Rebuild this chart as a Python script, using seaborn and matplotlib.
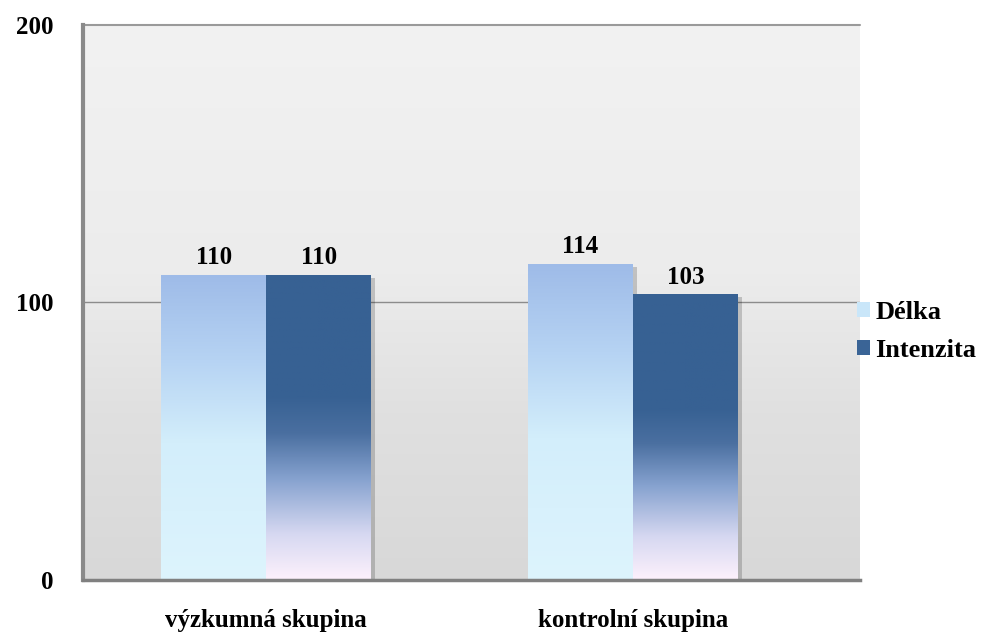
import matplotlib
matplotlib.use("Agg")
import matplotlib.pyplot as plt
import numpy as np
import pandas as pd
import seaborn as sns
from matplotlib.colors import LinearSegmentedColormap
from matplotlib.patches import Rectangle, Patch

# DATA
categories = ["výzkumná skupina", "kontrolní skupina"]
series = ["Délka", "Intenzita"]
delka = [110, 114]
intenzita = [110, 103]
yticks = [0, 100, 200]

df = pd.DataFrame({
    "skupina": categories * 2,
    "serie": [series[0]] * 2 + [series[1]] * 2,
    "hodnota": delka + intenzita,
})

# GRADIENTS (bottom -> top)
cmaps = {
    "Délka": LinearSegmentedColormap.from_list("d", [
        (0.0, "#ddf4fd"), (0.45, "#d3eefb"), (0.72, "#b6d3f3"), (1.0, "#9ebbe8")]),
    "Intenzita": LinearSegmentedColormap.from_list("i", [
        (0.0, "#fdf1fc"), (0.15, "#d6d8f1"), (0.33, "#86a2cf"), (0.48, "#4a6fa0"),
        (0.6, "#376193"), (1.0, "#376193")]),
}
bgcmap = LinearSegmentedColormap.from_list("bg", [
    (0.0, "#d8d8d8"), (0.3, "#e0e0e0"), (0.55, "#ececec"), (1.0, "#f2f2f2")])

sns.set_style("white")
plt.rcParams["font.family"] = ["Liberation Serif", "DejaVu Serif"]
plt.rcParams["font.weight"] = "bold"
plt.rcParams["text.color"] = "black"
plt.rcParams["xtick.color"] = "black"
plt.rcParams["ytick.color"] = "black"

fig = plt.figure(figsize=(9.92, 6.38), dpi=100)
ax = fig.add_axes([0.0837, 0.0909, 0.783, 0.870])

sns.barplot(data=df, x="skupina", y="hodnota", hue="serie", order=categories,
            hue_order=series, palette=["#c6e4f8", "#366092"], width=0.572,
            gap=0, dodge=True, legend=False, ax=ax, saturation=1)

# background gradient
grad = np.linspace(0, 1, 256).reshape(-1, 1)
ax.imshow(grad, cmap=bgcmap, aspect="auto", extent=[0, 1, 0, 1],
          transform=ax.transAxes, origin="lower", zorder=-5)

ax.axhline(100, color="#8c8c8c", lw=1, zorder=0.5)

# gradient fills and shadows
for bars, name in zip(ax.containers, series):
    for p in bars:
        x, y = p.get_x(), p.get_y()
        w, h = p.get_width(), p.get_height()
        sh = Rectangle((x + 0.012, 0), w, h - 1.2, facecolor="#000000",
                       alpha=0.18, edgecolor="none", zorder=1)
        ax.add_patch(sh)
        p.set_facecolor("none")
        p.set_edgecolor("none")
        p.set_zorder(3)
        im = ax.imshow(grad, cmap=cmaps[name], aspect="auto",
                       extent=[x, x + w, y, y + h], origin="lower", zorder=2)
        im.set_clip_path(p)
        ax.text(x + w / 2, h + 2, f"{h:.0f}", ha="center", va="bottom",
                fontsize=18, fontweight="bold", zorder=4)

ax.set_xlim(-0.499, 1.618)
ax.set_ylim(0, 200)

ax.set_yticks(yticks)
ax.set_yticklabels([str(t) for t in yticks], fontsize=18, fontweight="bold")
ax.tick_params(axis="y", length=0, pad=21)
ax.tick_params(axis="x", length=0, pad=21, labelsize=18)
for lab in ax.get_xticklabels():
    lab.set_fontweight("bold")
ax.set_xlabel("")
ax.set_ylabel("")

for s in ["top", "right"]:
    ax.spines[s].set_visible(False)
ax.spines["left"].set_color("#8a8a8a")
ax.spines["left"].set_linewidth(3)
ax.spines["bottom"].set_color("#808080")
ax.spines["bottom"].set_linewidth(2.5)
ax.plot([0, 1], [1, 1], transform=ax.transAxes, color="#9a9a9a", lw=1.5,
        clip_on=False)

handles = [Patch(facecolor="#c9e6f9", edgecolor="none"),
           Patch(facecolor="#3a6496", edgecolor="none")]
fig.legend(handles, series, loc="upper left", bbox_to_anchor=(0.840, 0.565),
           frameon=False, handlelength=0.5, handleheight=0.5,
           handletextpad=0.2, labelspacing=0.55,
           prop={"weight": "bold", "size": 19})

fig.savefig("out.png", dpi=100)
